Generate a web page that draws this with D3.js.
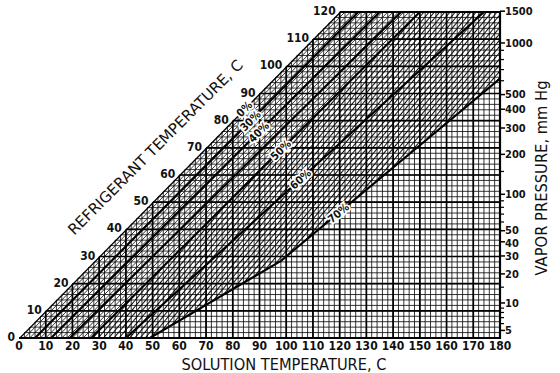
<!DOCTYPE html>
<html>
<head>
<meta charset="utf-8">
<script src="https://cdn.jsdelivr.net/npm/d3@7"></script>
<style>
  body { margin: 0; background: #fff; }
  text { fill: #111; }
</style>
</head>
<body>
<div class="chart"></div>
<script>
// axis ticks, deg C
const solutionTicks = [0, 10, 20, 30, 40, 50, 60, 70, 80, 90, 100, 110, 120, 130, 140, 150, 160, 170, 180];
const refrigerantTicks = [0, 10, 20, 30, 40, 50, 60, 70, 80, 90, 100, 110, 120];

// vapor pressure scale (mm Hg) and where it sits on the refrigerant scale
const pressureLabels = ["1500", "1000", "500", "400", "300", "200", "100", "50", "40", "30", "20", "10", "5"];
const pressureSatTemp = [120.3, 108.6, 89.6, 84.2, 77.3, 67.6, 52.9, 39.5, 35.4, 30.2, 23.6, 12.9, 2.8];
const minorPressureSatTemp = [105.9, 102.5, 98.8, 94.7, 61.3, 50.5, 48.1, 45.6, 42.7, 18.7, 11.0, 9.4, 7.5, 5.3];

// concentration lines: solution temp at refrigerant 0 C and at 120 C
const concLabels = ["0%", "30%", "40%", "", "50%", "60%", "70%"];
const concAtZero = [0, 6, 12, 19, 27, 40, 63.3];
const concAt120 = [120, 127, 135, 143, 150, 174, 210];
const concFrom = [0, 0, 0, 0, 0, 0, 28.5];       // refrigerant temp where the line starts
const labelRefrigT = [84.3, 79.9, 75.8, null, 69.2, 58.5, 46];

// crystallization line (solution temp, refrigerant temp)
const crystalSolT = [49, 98.2];
const crystalRefT = [0, 28.5];

const width = 560, height = 373;
const svg = d3.select(".chart").append("svg")
  .attr("width", width)
  .attr("height", height);

const x = d3.scaleLinear().domain([0, 180]).range([19, 500]);
const y = d3.scaleLinear().domain([0, 120]).range([338, 12]);
const pt = (t, r) => [x(t), y(r)];
const concT = (i, r) => concAtZero[i] + (concAt120[i] - concAtZero[i]) * r / 120;
const line = d3.line();

const defs = svg.append("defs");
defs.append("clipPath").attr("id", "plot")
  .append("polygon")
  .attr("points", [pt(0, 0), pt(180, 0), pt(180, 120), pt(120, 120)].join(" "));

// region between pure water and 50% line, gets the thin diagonals
const i50 = 4;
defs.append("clipPath").attr("id", "lean")
  .append("polygon")
  .attr("points", [pt(0, 0), pt(concAtZero[i50], 0), pt(concAt120[i50], 120), pt(120, 120)].join(" "));

defs.append("pattern").attr("id", "hatch")
  .attr("patternUnits", "userSpaceOnUse")
  .attr("width", 4).attr("height", 4)
  .attr("patternTransform", "rotate(40)")
  .append("line")
  .attr("x1", 0).attr("y1", -1).attr("x2", 0).attr("y2", 5)
  .attr("stroke", "#000").attr("stroke-width", 1.9);

const grid = svg.append("g").attr("clip-path", "url(#plot)");

// minor grid every 2 C
grid.selectAll(".vminor").data(d3.range(0, 181, 2)).join("line")
  .attr("x1", d => x(d)).attr("x2", d => x(d))
  .attr("y1", y(0)).attr("y2", y(120))
  .attr("stroke", "#111").attr("stroke-width", 0.85);
grid.selectAll(".hminor").data(d3.range(0, 121, 2)).join("line")
  .attr("x1", x(0)).attr("x2", x(180))
  .attr("y1", d => y(d)).attr("y2", d => y(d))
  .attr("stroke", "#111").attr("stroke-width", 0.85);

// thin 45 deg diagonals near the pure water line
svg.append("g").attr("clip-path", "url(#lean)")
  .selectAll("line").data(d3.range(2, 40, 2)).join("line")
  .attr("x1", d => x(d)).attr("y1", y(0))
  .attr("x2", d => x(d + 120)).attr("y2", y(120))
  .attr("stroke", "#111").attr("stroke-width", 0.85);

// hatched band, 50% to 70% / crystallization
const r70 = (180 - concAtZero[6]) / ((concAt120[6] - concAtZero[6]) / 120);
const hatchPts = [
  pt(concAtZero[i50], 0), pt(concAt120[i50], 120), pt(180, 120), pt(180, r70),
  pt(concT(6, concFrom[6]), concFrom[6]), pt(crystalSolT[0], crystalRefT[0])
];
svg.append("polygon")
  .attr("points", hatchPts.join(" "))
  .attr("fill", "url(#hatch)");

// major grid every 10 C
grid.selectAll(".vmajor").data(solutionTicks).join("line")
  .attr("x1", d => x(d)).attr("x2", d => x(d))
  .attr("y1", y(0)).attr("y2", y(120))
  .attr("stroke", "#000").attr("stroke-width", 1.7);
grid.selectAll(".hmajor").data(refrigerantTicks).join("line")
  .attr("x1", x(0)).attr("x2", x(180))
  .attr("y1", d => y(d)).attr("y2", d => y(d))
  .attr("stroke", "#000").attr("stroke-width", 1.7);

// concentration lines
const conc = svg.append("g").attr("clip-path", "url(#plot)");
concAtZero.forEach((a, i) => {
  conc.append("path")
    .attr("d", line([pt(concT(i, concFrom[i]), concFrom[i]), pt(concT(i, 120), 120)]))
    .attr("stroke", "#000").attr("fill", "none")
    .attr("stroke-width", i === 0 ? 2.6 : 2.1);
});
conc.append("path")
  .attr("d", line(crystalSolT.map((t, i) => pt(t, crystalRefT[i]))))
  .attr("stroke", "#000").attr("fill", "none").attr("stroke-width", 2.1);

// frame: bottom, right, top
svg.append("path")
  .attr("d", line([pt(0, 0), pt(180, 0), pt(180, 120), pt(120, 120)]))
  .attr("stroke", "#000").attr("fill", "none").attr("stroke-width", 2.2);

// concentration labels
concLabels.forEach((lab, i) => {
  if (!lab) return;
  const r = labelRefrigT[i];
  const [px, py] = pt(concT(i, r), r);
  const ang = Math.atan2(y(120) - y(0), x(concAt120[i]) - x(concAtZero[i])) * 180 / Math.PI;
  svg.append("text")
    .attr("transform", `translate(${px},${py}) rotate(${ang})`)
    .attr("text-anchor", "middle").attr("dy", "0.35em")
    .attr("font-family", "'DejaVu Sans Condensed', sans-serif")
    .attr("font-weight", "bold").attr("font-size", 11)
    .attr("stroke", "#fff").attr("stroke-width", 3.5).attr("paint-order", "stroke")
    .text(lab);
});

const numFont = "'DejaVu Sans Condensed', 'DejaVu Sans', sans-serif";

// bottom axis labels
svg.append("g").selectAll("text").data(solutionTicks).join("text")
  .attr("x", d => x(d)).attr("y", 350)
  .attr("text-anchor", "middle")
  .attr("font-family", numFont).attr("font-weight", "bold").attr("font-size", 12)
  .text(d => d);

// refrigerant labels along the pure water line
svg.append("g").selectAll("text").data(refrigerantTicks).join("text")
  .attr("x", d => x(d) - 4).attr("y", d => y(d) + 3)
  .attr("text-anchor", "end")
  .attr("font-family", numFont).attr("font-weight", "bold").attr("font-size", 12)
  .text(d => d);

// vapor pressure axis
const right = svg.append("g");
right.selectAll(".tick").data(pressureSatTemp).join("line")
  .attr("x1", x(180)).attr("x2", x(180) + 5)
  .attr("y1", d => y(d)).attr("y2", d => y(d))
  .attr("stroke", "#000").attr("stroke-width", 1.5);
right.selectAll(".minor").data(minorPressureSatTemp).join("line")
  .attr("x1", x(180)).attr("x2", x(180) + 4)
  .attr("y1", d => y(d)).attr("y2", d => y(d))
  .attr("stroke", "#000").attr("stroke-width", 1.2);

// push crowded labels apart a little (top to bottom)
const labelY = pressureSatTemp.map(d => y(d));
const minGap = 13;
for (let k = 0; k < 3; k++) {
  for (let i = 1; i < labelY.length; i++) {
    const gap = labelY[i] - labelY[i - 1];
    if (gap < minGap) {
      const push = (minGap - gap) / 2;
      labelY[i - 1] -= push;
      labelY[i] += push;
    }
  }
}
right.selectAll("text").data(pressureLabels).join("text")
  .attr("x", x(180) + 5).attr("y", (d, i) => labelY[i])
  .attr("dy", "0.35em")
  .attr("font-family", numFont).attr("font-weight", "bold").attr("font-size", 11)
  .text(d => d);

// titles
const titleFont = "'DejaVu Sans', sans-serif";
svg.append("text")
  .attr("x", 284).attr("y", 370)
  .attr("text-anchor", "middle")
  .attr("font-family", titleFont).attr("font-size", 15.5)
  .attr("textLength", 205).attr("lengthAdjust", "spacingAndGlyphs")
  .text("SOLUTION TEMPERATURE, C");

svg.append("text")
  .attr("transform", "translate(159,151) rotate(-45)")
  .attr("text-anchor", "middle")
  .attr("font-family", titleFont).attr("font-size", 15)
  .attr("textLength", 240).attr("lengthAdjust", "spacingAndGlyphs")
  .text("REFRIGERANT TEMPERATURE, C");

svg.append("text")
  .attr("transform", "translate(547,178) rotate(-90)")
  .attr("text-anchor", "middle")
  .attr("font-family", titleFont).attr("font-size", 15)
  .attr("textLength", 195).attr("lengthAdjust", "spacingAndGlyphs")
  .text("VAPOR PRESSURE, mm Hg");
</script>
</body>
</html>
